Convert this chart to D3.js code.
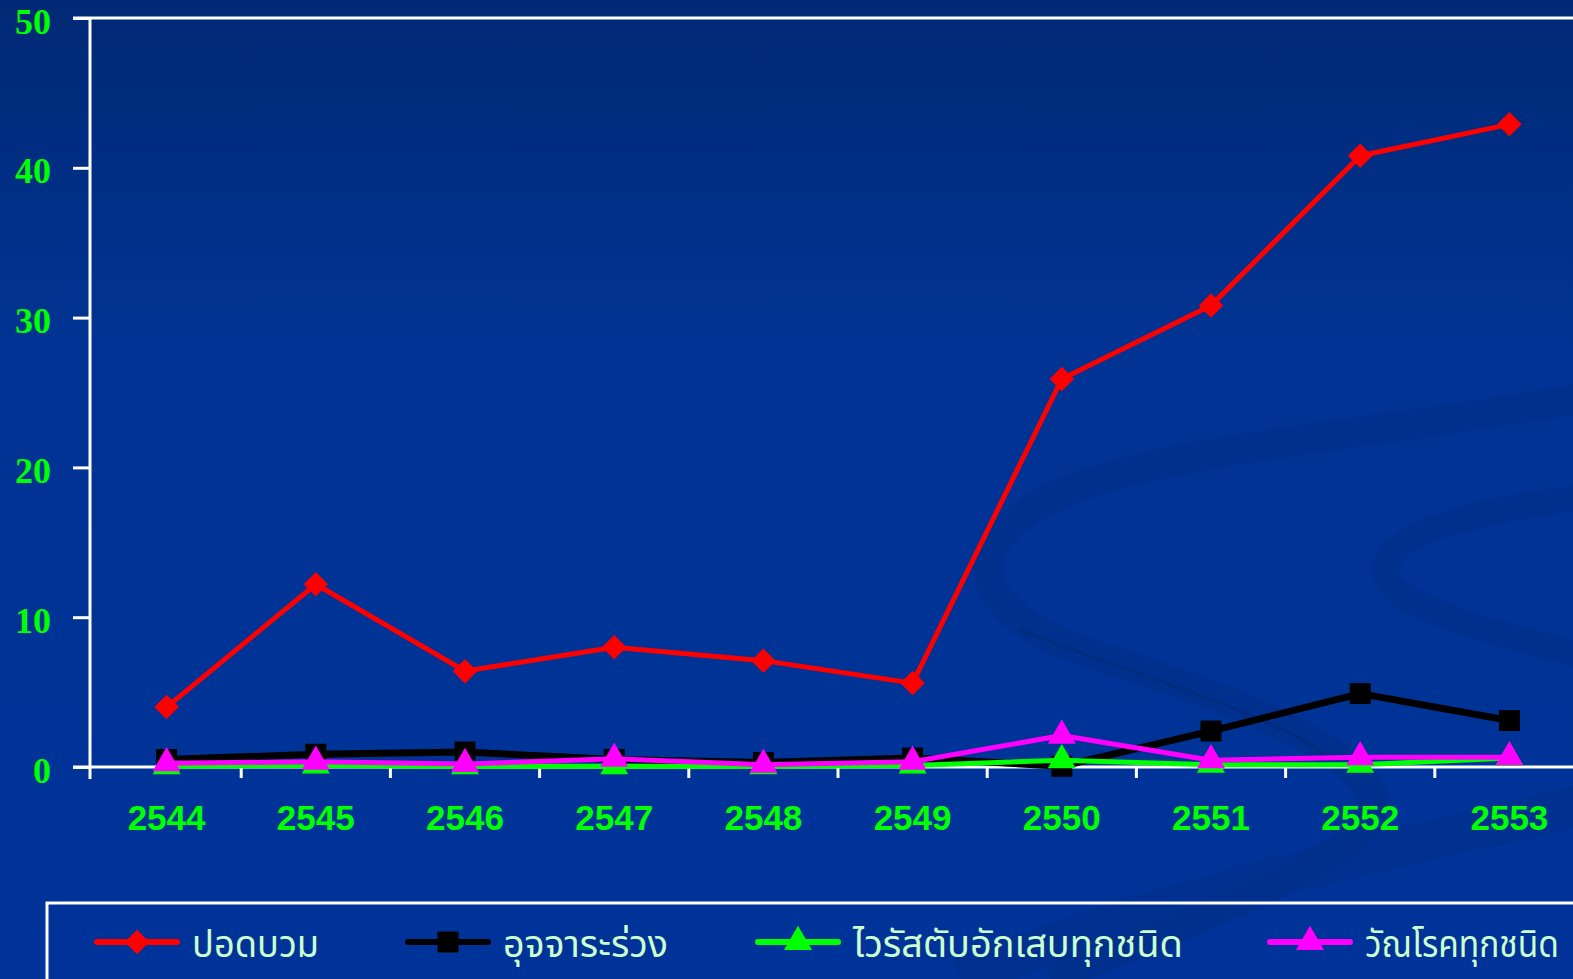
<!DOCTYPE html>
<html>
<head>
<meta charset="UTF-8">
<title></title>
<script src="https://cdn.jsdelivr.net/npm/d3@7/dist/d3.min.js"></script>
<style>
  body { margin: 0; overflow: hidden; background: #003399; }
</style>
</head>
<body>
<div id="chart"></div>
<script>
// data
var years = ["2544","2545","2546","2547","2548","2549","2550","2551","2552","2553"];
var pneumonia = [4.0, 12.2, 6.4, 8.0, 7.1, 5.6, 25.9, 30.8, 40.8, 42.9];
var diarrhea  = [0.5, 0.85, 1.0, 0.5, 0.3, 0.6, 0.05, 2.4, 4.9, 3.1];
var hepatitis = [0.05, 0.1, 0.05, 0.05, 0.05, 0.1, 0.45, 0.15, 0.15, 0.6];
var tb        = [0.25, 0.35, 0.2, 0.55, 0.15, 0.35, 2.1, 0.45, 0.65, 0.65];
var yTicks = [0, 10, 20, 30, 40, 50];
var seriesNames = ["ปอดบวม", "อุจจาระร่วง", "ไวรัสตับอักเสบทุกชนิด", "วัณโรคทุกชนิด"];

var width = 1573, height = 979;

var svg = d3.select("#chart").append("svg")
  .attr("width", width).attr("height", height);

// background gradient
var defs = svg.append("defs");
var grad = defs.append("linearGradient").attr("id", "bg")
  .attr("x1", 0).attr("y1", 0).attr("x2", 0).attr("y2", 1);
grad.append("stop").attr("offset", "0").attr("stop-color", "#002975");
grad.append("stop").attr("offset", "0.35").attr("stop-color", "#003393");
grad.append("stop").attr("offset", "1").attr("stop-color", "#003399");
svg.append("rect").attr("width", width).attr("height", height).attr("fill", "url(#bg)");

// swooshes in the background
var sw = svg.append("g").attr("fill", "none").attr("stroke", "#00308c").attr("stroke-opacity", 0.9);
sw.append("path").attr("stroke-width", 30)
  .attr("d", "M1600,395 C1350,440 1120,450 1030,510 C960,555 980,615 1080,650 C1200,690 1330,730 1370,790 C1400,840 1250,900 1050,979");
sw.append("path").attr("stroke-width", 26)
  .attr("d", "M1600,495 C1480,510 1390,530 1385,570 C1385,605 1480,630 1600,660");
sw.append("path").attr("stroke-width", 40).attr("stroke-opacity", 0.6)
  .attr("d", "M1600,800 C1450,840 1200,880 960,979");
sw.append("path").attr("stroke-width", 3).attr("stroke", "#00286f").attr("stroke-opacity", 0.5)
  .attr("d", "M1020,630 C1150,680 1290,720 1330,760");

// scales
var margin = { left: 90, top: 18 };
var xScale = d3.scaleBand().domain(years).range([92, 92 + 149.2 * years.length]);
var yScale = d3.scaleLinear().domain([0, 50]).range([767, margin.top]);

// top border of plot
svg.append("line").attr("x1", 73).attr("x2", width + 10)
  .attr("y1", yScale(50)).attr("y2", yScale(50))
  .attr("stroke", "#fff").attr("stroke-width", 3);

// y axis
var yAxis = d3.axisLeft(yScale).tickValues(yTicks).tickSize(17).tickPadding(22).tickSizeOuter(0);
var gy = svg.append("g").attr("transform", "translate(" + margin.left + ",0)").call(yAxis);
gy.select(".domain").remove();
gy.selectAll(".tick line").attr("stroke", "#fff").attr("stroke-width", 3);
gy.selectAll(".tick text").attr("fill", "#00ff00")
  .style("font-family", "'Liberation Serif', 'Times New Roman', serif")
  .style("font-weight", "bold").style("font-size", "36px").attr("dy", "0.42em");
svg.append("line").attr("x1", margin.left).attr("x2", margin.left)
  .attr("y1", yScale(50)).attr("y2", 779)
  .attr("stroke", "#fff").attr("stroke-width", 3);

// x axis
svg.append("line").attr("x1", 73).attr("x2", width + 10)
  .attr("y1", yScale(0)).attr("y2", yScale(0))
  .attr("stroke", "#fff").attr("stroke-width", 3);
svg.selectAll(".xtick").data(years.slice(1)).enter().append("line")
  .attr("x1", function(d){ return xScale(d); })
  .attr("x2", function(d){ return xScale(d); })
  .attr("y1", yScale(0)).attr("y2", yScale(0) + 11)
  .attr("stroke", "#fff").attr("stroke-width", 3);
svg.selectAll(".xlabel").data(years).enter().append("text")
  .attr("x", function(d){ return xScale(d) + xScale.bandwidth() / 2; })
  .attr("y", 830)
  .attr("text-anchor", "middle")
  .attr("fill", "#00ff00")
  .style("font-family", "'Liberation Sans', Arial, sans-serif")
  .style("font-weight", "bold").style("font-size", "35px")
  .text(function(d){ return d; });

// series
var series = [
  { name: seriesNames[0], values: pneumonia, color: "#ff0000", w: 5, sym: d3.symbolSquare, size: 300, rot: 45 },
  { name: seriesNames[1], values: diarrhea, color: "#000000", w: 7, sym: d3.symbolSquare, size: 440, rot: 0 },
  { name: seriesNames[2], values: hepatitis, color: "#00ff00", w: 5, sym: d3.symbolTriangle, size: 340, rot: 0 },
  { name: seriesNames[3], values: tb, color: "#ff00ff", w: 5, sym: d3.symbolTriangle, size: 340, rot: 0 }
];

var line = d3.line()
  .x(function(d, i){ return xScale(years[i]) + xScale.bandwidth() / 2; })
  .y(function(d){ return yScale(d); });

series.forEach(function(s) {
  var g = svg.append("g");
  g.append("path").attr("d", line(s.values))
    .attr("fill", "none").attr("stroke", s.color).attr("stroke-width", s.w)
    .attr("stroke-linejoin", "round");
  g.selectAll("path.m").data(s.values).enter().append("path")
    .attr("class", "m")
    .attr("d", d3.symbol().type(s.sym).size(s.size))
    .attr("fill", s.color)
    .attr("transform", function(d, i){
      return "translate(" + (xScale(years[i]) + xScale.bandwidth() / 2) + "," + yScale(d) + ") rotate(" + s.rot + ")";
    });
});

// legend
svg.append("rect").attr("x", 47).attr("y", 903).attr("width", width).attr("height", 200)
  .attr("fill", "none").attr("stroke", "#fff").attr("stroke-width", 3);
var legendX = [97, 408, 758, 1270];
var textLen = [127, 165, 330, 194];
var legend = svg.selectAll(".leg").data(series).enter().append("g")
  .attr("transform", function(d, i){ return "translate(" + legendX[i] + ",942)"; });
legend.append("line").attr("x1", 0).attr("x2", 80)
  .attr("stroke", function(d){ return d.color; }).attr("stroke-width", 6)
  .attr("stroke-linecap", "round");
legend.append("path")
  .attr("d", function(d){ return d3.symbol().type(d.sym).size(d.size)(); })
  .attr("fill", function(d){ return d.color; })
  .attr("transform", function(d){ return "translate(40,0) rotate(" + d.rot + ")"; });
// squeeze each label horizontally to the width seen in the picture
legend.append("text")
  .attr("fill", "#ccffcc")
  .style("font-family", "'Noto Sans Thai', 'Noto Serif Thai', 'Loma', 'Garuda', 'Norasi', sans-serif")
  .style("font-size", "38px")
  .text(function(d){ return d.name; })
  .attr("transform", function(d, i){
    var k = textLen[i] / this.getComputedTextLength();
    return "translate(95,15) scale(" + k + ",1)";
  });
</script>
</body>
</html>
